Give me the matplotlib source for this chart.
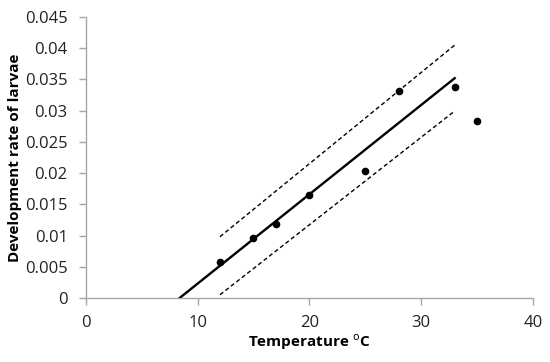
import numpy as np
import matplotlib.pyplot as plt

# datos observados
temp = [12, 15, 17, 20, 25, 28, 33, 35]
tasa = [0.0058, 0.0096, 0.0118, 0.0165, 0.0203, 0.0331, 0.0338, 0.0283]

# recta de regresion y bandas de confianza (extremos)
recta_x = [8.4, 33]
recta_y = [0.0, 0.0352]
sup_x = [12, 33]
sup_y = [0.0098, 0.0405]
inf_x = [12, 32.9]
inf_y = [0.0005, 0.0298]

plt.rcParams['font.family'] = ['Open Sans', 'DejaVu Sans']

fig = plt.figure(figsize=(5.5, 3.62), dpi=100)
ax = fig.add_axes([0.156, 0.177, 0.813, 0.776])

ax.plot(recta_x, recta_y, color='black', lw=1.7)
ax.plot(sup_x, sup_y, color='black', lw=1.0, ls=(0, (3, 2)))
ax.plot(inf_x, inf_y, color='black', lw=1.0, ls=(0, (3, 2)))
ax.plot(temp, tasa, 'o', color='black', markersize=4.5)

ax.set_xlim(0, 40)
ax.set_ylim(0, 0.045)
ax.set_xticks([0, 10, 20, 30, 40])
ax.set_yticks(np.arange(0, 0.0451, 0.005))
ax.set_yticklabels(['0', '0.005', '0.01', '0.015', '0.02', '0.025', '0.03', '0.035', '0.04', '0.045'])

for s in ['top', 'right']:
    ax.spines[s].set_visible(False)
for s in ['left', 'bottom']:
    ax.spines[s].set_color('#a6a6a6')
    ax.spines[s].set_linewidth(1.0)
ax.tick_params(colors='#a6a6a6', labelcolor='#222222', labelsize=12, length=5, width=1.0)
ax.tick_params(axis='y', pad=8)
ax.tick_params(axis='x', pad=7)

ax.set_xlabel('Temperature $^{\\mathrm{o}}$C', fontsize=11, fontweight='bold', labelpad=1)
ax.set_ylabel('Development rate of larvae', fontsize=11, fontweight='bold', labelpad=2)

fig.savefig('out.png', dpi=100)
